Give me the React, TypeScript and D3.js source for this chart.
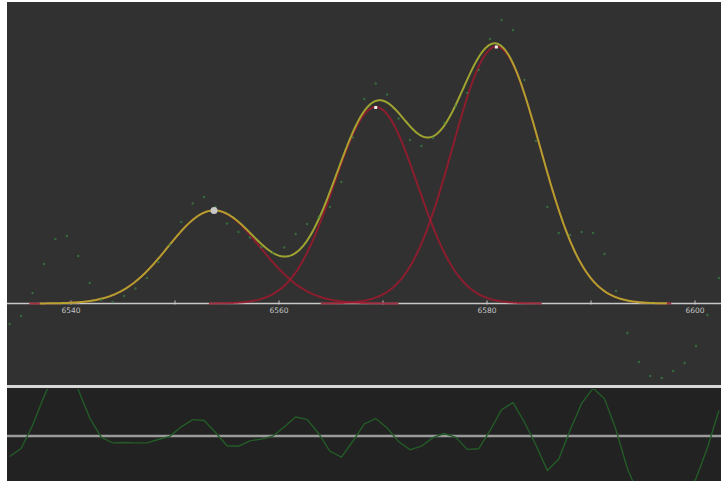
import React from 'react';
import * as d3 from 'd3';

// observed spectrum (wavelength, flux)
const wavelengths = [
  6534.1, 6535.2, 6536.3, 6537.4, 6538.5, 6539.6, 6540.7, 6541.8, 6542.9, 6544.0,
  6545.1, 6546.2, 6547.3, 6548.4, 6549.5, 6550.6, 6551.7, 6552.8, 6553.9, 6555.0,
  6556.1, 6557.2, 6558.3, 6559.4, 6560.5, 6561.6, 6562.7, 6563.8, 6564.9, 6566.0,
  6567.1, 6568.2, 6569.3, 6570.4, 6571.5, 6572.6, 6573.7, 6574.8, 6575.9, 6577.0,
  6578.1, 6579.2, 6580.3, 6581.4, 6582.5, 6583.6, 6584.7, 6585.8, 6586.9, 6588.0,
  6589.1, 6590.2, 6591.3, 6592.4, 6593.5, 6594.6, 6595.7, 6596.8, 6597.9, 6599.0,
  6600.1, 6601.2, 6602.3,
];
const flux = [
  -0.205, -0.125, 0.105, 0.395, 0.645, 0.675, 0.475, 0.205, 0.035, 0.015,
  0.075, 0.15, 0.255, 0.415, 0.585, 0.815, 1.0, 1.065, 0.965, 0.8,
  0.715, 0.66, 0.565, 0.505, 0.56, 0.695, 0.795, 0.865, 0.965, 1.215,
  1.66, 2.045, 2.2, 2.09, 1.85, 1.635, 1.575, 1.655, 1.805, 1.975,
  2.105, 2.335, 2.645, 2.835, 2.735, 2.235, 1.625, 0.965, 0.705, 0.685,
  0.715, 0.705, 0.495, 0.125, -0.295, -0.585, -0.725, -0.745, -0.675, -0.595,
  -0.425, -0.115, 0.255,
];

// fitted gaussian components
const centers = [6553.75, 6569.3, 6580.9];
const amplitudes = [0.93, 1.965, 2.57];
const sigmas = [4.44, 4.01, 4.22];

const tickValues = [6540, 6550, 6560, 6570, 6580, 6590, 6600];
const tickLabels = ['6540', '', '6560', '', '6580', '', '6600'];

const W = 721;
const H = 481;

const gauss = (i: number, l: number) =>
  amplitudes[i] * Math.exp(-((l - centers[i]) ** 2) / (2 * sigmas[i] ** 2));
const model = (l: number) => centers.reduce((s, _, i) => s + gauss(i, l), 0);

export default function App() {
  const x = d3.scaleLinear().domain([6540, 6600]).range([71, 695]);
  const y = d3.scaleLinear().domain([0, 1]).range([303.5, 203.5]);
  const yr = d3.scaleLinear().domain([0, 1]).range([436, 336]);

  const line = d3.line<[number, number]>().x(d => x(d[0])).y(d => y(d[1]));
  const rline = d3.line<[number, number]>().x(d => x(d[0])).y(d => yr(d[1]));

  const sumPts: [number, number][] = d3.range(6537, 6597.4, 0.1).map(l => [l, model(l)]);
  const compPaths = centers.map((c, i) => {
    const pts: [number, number][] = d3
      .range(c - 4 * sigmas[i], c + 4 * sigmas[i], 0.1)
      .map(l => [l, gauss(i, l)]);
    return line(pts) || '';
  });
  const resid: [number, number][] = wavelengths.map((l, i) => [l, flux[i] - model(l)]);

  return (
    <svg width={W} height={H} style={{ position: 'absolute', left: 0, top: 0, background: '#fff' }}>
      <defs>
        <clipPath id="topClip">
          <rect x={7} y={2} width={W - 7} height={383} />
        </clipPath>
        <clipPath id="botClip">
          <rect x={7} y={389} width={W - 7} height={H - 389} />
        </clipPath>
      </defs>
      <rect x={7} y={2} width={W - 7} height={383} fill="#313131" />
      <rect x={7} y={385} width={W - 7} height={3} fill="#d8d8d8" />
      <rect x={7} y={388} width={W - 7} height={H - 388} fill="#222222" />

      <g clipPath="url(#topClip)">
        {/* axis */}
        <line x1={7} x2={W} y1={y(0)} y2={y(0)} stroke="#c8c8c8" strokeWidth={1.5} />
        {tickValues.map((t, i) => (
          <g key={t}>
            <line x1={x(t)} x2={x(t)} y1={y(0) - 3} y2={y(0) + 1} stroke="#c8c8c8" strokeWidth={1} />
            {tickLabels[i] && (
              <text
                x={x(t)}
                y={y(0) + 9.5}
                textAnchor="middle"
                fontFamily="DejaVu Sans, sans-serif"
                fontSize={7.5}
                fill="#c4c4c4"
              >
                {tickLabels[i]}
              </text>
            )}
          </g>
        ))}
        {/* components */}
        {compPaths.map((d, i) => (
          <path key={i} d={d} fill="none" stroke="#9c1a2e" strokeWidth={2} strokeOpacity={0.85} />
        ))}
        <path d={line(sumPts) || ''} fill="none" stroke="#bcc030" strokeWidth={2} strokeOpacity={0.8} />
        {/* data points */}
        {wavelengths.map((l, i) => (
          <circle key={i} cx={x(l)} cy={y(flux[i])} r={1.2} fill="#3a7f42" fillOpacity={0.75} />
        ))}
        {/* peak markers */}
        {centers.map((c, i) =>
          i === 0 ? (
            <circle key={i} cx={x(c)} cy={y(amplitudes[i])} r={3.5} fill="#c8c8c8" />
          ) : (
            <rect key={i} x={x(c) - 1.5} y={y(amplitudes[i]) - 1} width={3} height={3} fill="#eeeeee" />
          )
        )}
      </g>

      <g clipPath="url(#botClip)">
        <line x1={7} x2={W} y1={yr(0)} y2={yr(0)} stroke="#9a9a9a" strokeWidth={2.5} />
        <path d={rline(resid) || ''} fill="none" stroke="#235c26" strokeWidth={1.4} />
      </g>
    </svg>
  );
}
